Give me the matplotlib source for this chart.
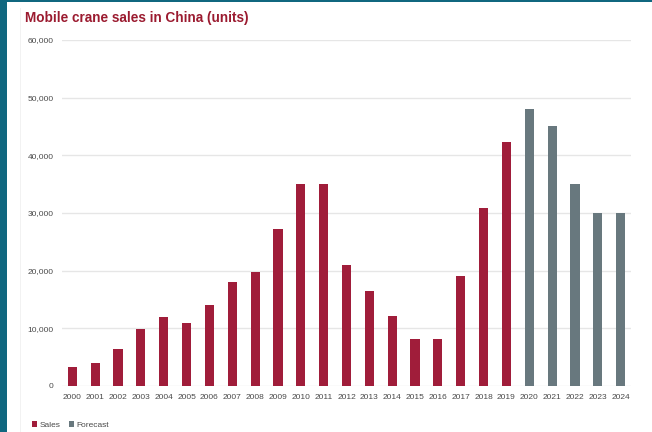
import matplotlib
matplotlib.use("Agg")
import matplotlib.pyplot as plt
from matplotlib.patches import Rectangle, Patch

years = [str(y) for y in range(2000, 2025)]
sales_years = years[:20]
sales = [3300, 4000, 6500, 9800, 12000, 11000, 14100, 18100, 19800, 27300,
         35000, 35000, 21000, 16400, 12200, 8100, 8200, 19100, 30900, 42300]
forecast_years = years[20:]
forecast = [48000, 45000, 35000, 30000, 30000]
yticks = [0, 10000, 20000, 30000, 40000, 50000, 60000]

RED = "#a01d3a"
GREY = "#68787e"
TEAL = "#10677f"

plt.rcParams["font.family"] = ["Liberation Sans", "DejaVu Sans"]

fig = plt.figure(figsize=(6.52, 4.32), dpi=100)
fig.patch.set_facecolor("white")
fig.patches.append(Rectangle((0, 0), 7/652, 1, transform=fig.transFigure,
                             facecolor=TEAL, edgecolor="none", zorder=0))
fig.patches.append(Rectangle((0, 1-2/432), 1, 2/432, transform=fig.transFigure,
                             facecolor=TEAL, edgecolor="none", zorder=0))
fig.patches.append(Rectangle((20/652, 0), 1/652, 1-8/432, transform=fig.transFigure,
                             facecolor="#f2f2f2", edgecolor="none", zorder=0))

ax = fig.add_axes([62/652, 1-386/432, (631-62)/652, (386-40)/432])
ax.set_facecolor("white")
xs = list(range(len(years)))
ax.bar(xs[:20], sales, width=0.4, color=RED, zorder=3)
ax.bar(xs[20:], forecast, width=0.4, color=GREY, zorder=3)
ax.set_xlim(-0.45, 24.45)
ax.set_ylim(0, 60000)
ax.set_yticks(yticks)
ax.set_yticklabels([f"{v:,}" for v in yticks])
ax.set_xticks(xs)
ax.set_xticklabels(years)
ax.grid(axis="y", color="#e6e6e6", linewidth=1.0, zorder=0)
ax.set_axisbelow(True)
for s in ax.spines.values():
    s.set_visible(False)
ax.tick_params(axis="both", length=0, labelsize=6.0, colors="#4a4a4a")
ax.tick_params(axis="y", pad=6)
ax.tick_params(axis="x", pad=6)

fig.text(25/652, 1-18/432, "Mobile crane sales in China (units)", color="#9b1b30",
         fontsize=9.8, fontweight="bold", va="center", ha="left")

handles = [Patch(facecolor=RED, edgecolor="none", label="Sales"),
           Patch(facecolor=GREY, edgecolor="none", label="Forecast")]
fig.legend(handles=handles, loc="center left", bbox_to_anchor=(28/652, 1-425/432),
           ncol=2, frameon=False, fontsize=6.0, handlelength=0.6, handleheight=0.6,
           handletextpad=0.3, columnspacing=1.0, labelcolor="#4a4a4a", borderpad=0)

fig.savefig("out.png", dpi=100, facecolor="white")
